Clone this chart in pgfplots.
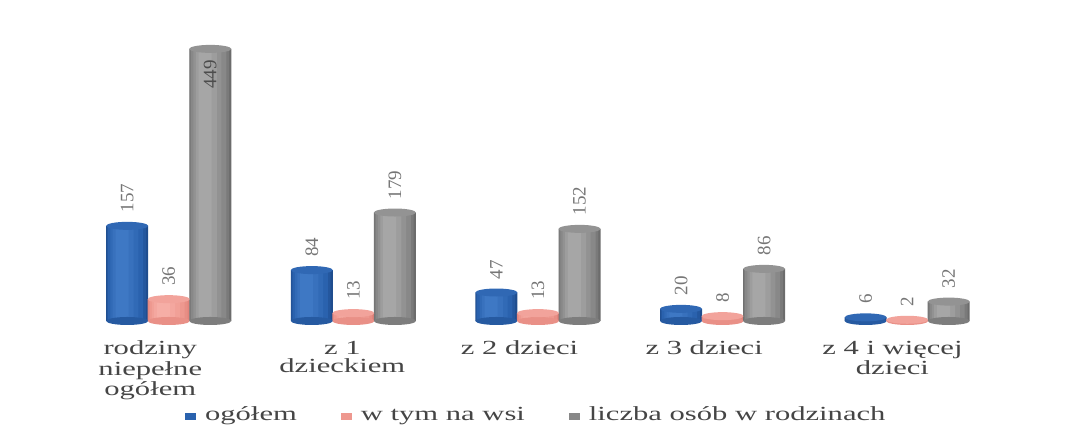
\documentclass[border=0pt]{standalone}
\usepackage{fontspec}
\setmainfont{Liberation Serif}
\newfontfamily\widefont{Liberation Serif}[FakeStretch=1.53]
\usepackage{pgfplots}
\usepackage{pgfplotstable}
\pgfplotsset{compat=1.18}

\definecolor{blueD}{HTML}{1F4D8E}
\definecolor{blueM}{HTML}{2A62AE}
\definecolor{blueL}{HTML}{3E78C4}
\definecolor{blueT}{HTML}{3068B4}
\definecolor{pinkD}{HTML}{E2837B}
\definecolor{pinkM}{HTML}{EE988F}
\definecolor{pinkL}{HTML}{F6AEA6}
\definecolor{pinkT}{HTML}{F2A39B}
\definecolor{grayD}{HTML}{6C6C6C}
\definecolor{grayM}{HTML}{888888}
\definecolor{grayL}{HTML}{A6A6A6}
\definecolor{grayT}{HTML}{939393}
\definecolor{numgray}{HTML}{767676}
\definecolor{txt}{HTML}{454545}

% ellipse used for the top and the bottom of each cylinder
\pgfdeclareplotmark{cyl}{%
  \pgfpathellipse{\pgfpointorigin}{\pgfqpoint{10.5pt}{0pt}}{\pgfqpoint{0pt}{2pt}}%
  \pgfusepathqfill}

\pgfplotstableread{
x ogol wies osoby
0 157 36 449
1 84 13 179
2 47 13 152
3 20 8 86
4 6 2 32
}\datatable

\pgfplotsset{
  layer/.style 2 args={ybar, bar width=#1, bar shift=#2, draw=none, mark=none, forget plot},
  cylend/.style={only marks, mark=cyl, mark options={fill=#1, draw=none}, forget plot},
  vals/.style={nodes near coords,
    every node near coord/.append style={rotate=90, anchor=west, inner xsep=6.5pt, inner ysep=0pt,
      font=\fontsize{9.5}{10}\selectfont, text=numgray}},
}

% one cylinder body: stacked narrower and lighter bars give the round shading
% #1 colour prefix, #2 column, #3 x offset
\newcommand{\cylbody}[3]{%
  \addplot[layer={21pt}{0pt}, fill=#1D, forget plot=false,
    legend image code/.code={\fill[#1M] (0pt,-2.5pt) rectangle (5.5pt,1pt);}]
    table[x expr=\thisrow{x}+#3, y=#2] {\datatable};
  \addplot[layer={19.6pt}{-0.4pt}, fill=#1D!50!#1M] table[x expr=\thisrow{x}+#3, y=#2] {\datatable};
  \addplot[layer={17.6pt}{-0.8pt}, fill=#1M] table[x expr=\thisrow{x}+#3, y=#2] {\datatable};
  \addplot[layer={14pt}{-1.4pt}, fill=#1M!65!#1L] table[x expr=\thisrow{x}+#3, y=#2] {\datatable};
  \addplot[layer={10.5pt}{-2pt}, fill=#1M!30!#1L] table[x expr=\thisrow{x}+#3, y=#2] {\datatable};
  \addplot[layer={6.5pt}{-2.6pt}, fill=#1L] table[x expr=\thisrow{x}+#3, y=#2] {\datatable};
}

\begin{document}
\begin{tikzpicture}
\begin{axis}[
  scale only axis, width=480pt, height=151.5pt,
  xmin=-0.6, xmax=4.6, ymin=0, ymax=500,
  clip=false,
  axis line style={draw=none},
  tick style={draw=none},
  ytick=\empty,
  xtick={-0.1,0.94,1.9,2.9,3.92},
  xticklabels={{rodziny\\niepełne\\ogółem},{z 1\\dzieckiem},{z 2 dzieci},{z 3 dzieci},{z 4 i więcej\\dzieci}},
  xticklabel style={align=center, text=txt, font=\widefont\fontsize{10}{9}\selectfont, anchor=north, yshift=-6.5pt},
  /pgf/number format/assume math mode=true,
  legend columns=-1,
  legend style={at={(rel axis cs:0.132,-0.31)}, anchor=west, draw=none, fill=none, inner sep=0pt,
    font=\widefont\fontsize{10}{12}\selectfont, text=txt,
    /tikz/every odd column/.append style={column sep=2.5pt},
    /tikz/every even column/.append style={column sep=20pt}},
]
% bottom ellipses
\addplot[cylend=blueD!40!blueM] table[x expr=\thisrow{x}-0.225, y expr=0] {\datatable};
\addplot[cylend=pinkD!40!pinkM] table[x expr=\thisrow{x}, y expr=0] {\datatable};
\addplot[cylend=grayD!40!grayM] table[x expr=\thisrow{x}+0.225, y expr=0] {\datatable};

% bodies
\cylbody{blue}{ogol}{-0.225}
\addlegendentry{ogółem}
\cylbody{pink}{wies}{0}
\addlegendentry{w tym na wsi}
\cylbody{gray}{osoby}{0.225}
\addlegendentry{liczba osób w rodzinach}

% tops and values
\addplot[cylend=blueT, vals] table[x expr=\thisrow{x}-0.225, y=ogol] {\datatable};
\addplot[cylend=pinkT, vals] table[x expr=\thisrow{x}, y=wies] {\datatable};
\addplot[cylend=grayT, vals, skip coords between index={0}{1}]
  table[x expr=\thisrow{x}+0.225, y=osoby] {\datatable};
% the tallest value sits inside its bar
\addplot[cylend=grayT, vals, skip coords between index={1}{5},
  every node near coord/.append style={anchor=east, inner xsep=5.5pt, text=black!70}]
  table[x expr=\thisrow{x}+0.225, y=osoby] {\datatable};

\path (rel axis cs:-0.0604,-0.396) rectangle (rel axis cs:1.0667,1.0594);
\end{axis}
\end{tikzpicture}
\end{document}
